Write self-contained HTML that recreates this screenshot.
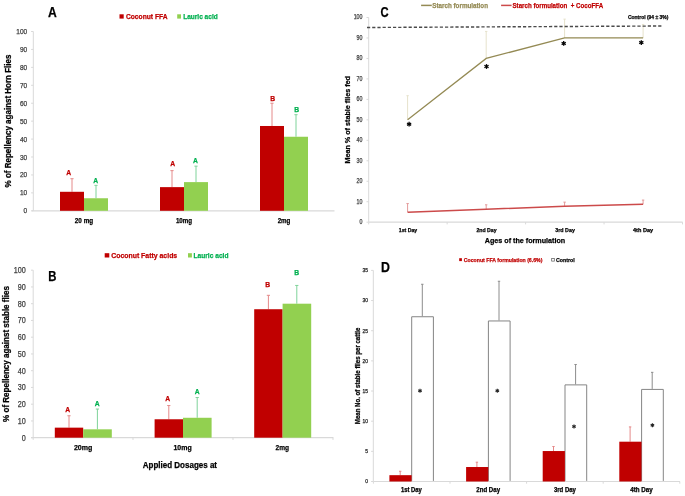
<!DOCTYPE html>
<html><head><meta charset="utf-8"><style>
html,body{margin:0;padding:0;background:#fff;overflow:hidden;}
svg{display:block;font-family:"Liberation Sans", sans-serif;will-change:transform;}
</style></head><body>
<svg width="685" height="496" viewBox="0 0 685 496">
<rect width="685" height="496" fill="#fff"/>
<line x1="33.30" y1="31.50" x2="33.30" y2="210.80" stroke="#d9d9d9" stroke-width="1"/>
<line x1="31.10" y1="210.80" x2="33.30" y2="210.80" stroke="#d9d9d9" stroke-width="1"/>
<text x="27.20" y="213.30" font-size="7.3" fill="#404040" text-anchor="end" font-weight="normal" textLength="3.65" lengthAdjust="spacingAndGlyphs" stroke="#404040" stroke-width="0.25">0</text>
<line x1="31.10" y1="192.87" x2="33.30" y2="192.87" stroke="#d9d9d9" stroke-width="1"/>
<text x="27.20" y="195.37" font-size="7.3" fill="#404040" text-anchor="end" font-weight="normal" textLength="7.30" lengthAdjust="spacingAndGlyphs" stroke="#404040" stroke-width="0.25">10</text>
<line x1="31.10" y1="174.94" x2="33.30" y2="174.94" stroke="#d9d9d9" stroke-width="1"/>
<text x="27.20" y="177.44" font-size="7.3" fill="#404040" text-anchor="end" font-weight="normal" textLength="7.30" lengthAdjust="spacingAndGlyphs" stroke="#404040" stroke-width="0.25">20</text>
<line x1="31.10" y1="157.01" x2="33.30" y2="157.01" stroke="#d9d9d9" stroke-width="1"/>
<text x="27.20" y="159.51" font-size="7.3" fill="#404040" text-anchor="end" font-weight="normal" textLength="7.30" lengthAdjust="spacingAndGlyphs" stroke="#404040" stroke-width="0.25">30</text>
<line x1="31.10" y1="139.08" x2="33.30" y2="139.08" stroke="#d9d9d9" stroke-width="1"/>
<text x="27.20" y="141.58" font-size="7.3" fill="#404040" text-anchor="end" font-weight="normal" textLength="7.30" lengthAdjust="spacingAndGlyphs" stroke="#404040" stroke-width="0.25">40</text>
<line x1="31.10" y1="121.15" x2="33.30" y2="121.15" stroke="#d9d9d9" stroke-width="1"/>
<text x="27.20" y="123.65" font-size="7.3" fill="#404040" text-anchor="end" font-weight="normal" textLength="7.30" lengthAdjust="spacingAndGlyphs" stroke="#404040" stroke-width="0.25">50</text>
<line x1="31.10" y1="103.22" x2="33.30" y2="103.22" stroke="#d9d9d9" stroke-width="1"/>
<text x="27.20" y="105.72" font-size="7.3" fill="#404040" text-anchor="end" font-weight="normal" textLength="7.30" lengthAdjust="spacingAndGlyphs" stroke="#404040" stroke-width="0.25">60</text>
<line x1="31.10" y1="85.29" x2="33.30" y2="85.29" stroke="#d9d9d9" stroke-width="1"/>
<text x="27.20" y="87.79" font-size="7.3" fill="#404040" text-anchor="end" font-weight="normal" textLength="7.30" lengthAdjust="spacingAndGlyphs" stroke="#404040" stroke-width="0.25">70</text>
<line x1="31.10" y1="67.36" x2="33.30" y2="67.36" stroke="#d9d9d9" stroke-width="1"/>
<text x="27.20" y="69.86" font-size="7.3" fill="#404040" text-anchor="end" font-weight="normal" textLength="7.30" lengthAdjust="spacingAndGlyphs" stroke="#404040" stroke-width="0.25">80</text>
<line x1="31.10" y1="49.43" x2="33.30" y2="49.43" stroke="#d9d9d9" stroke-width="1"/>
<text x="27.20" y="51.93" font-size="7.3" fill="#404040" text-anchor="end" font-weight="normal" textLength="7.30" lengthAdjust="spacingAndGlyphs" stroke="#404040" stroke-width="0.25">90</text>
<line x1="31.10" y1="31.50" x2="33.30" y2="31.50" stroke="#d9d9d9" stroke-width="1"/>
<text x="27.20" y="34.00" font-size="7.3" fill="#404040" text-anchor="end" font-weight="normal" textLength="10.95" lengthAdjust="spacingAndGlyphs" stroke="#404040" stroke-width="0.25">100</text>
<line x1="31.60" y1="210.80" x2="334.50" y2="210.80" stroke="#d9d9d9" stroke-width="1.2"/>
<line x1="72.00" y1="178.71" x2="72.00" y2="191.79" stroke="#e58a8a" stroke-width="1"/>
<line x1="70.40" y1="178.71" x2="73.60" y2="178.71" stroke="#e58a8a" stroke-width="1"/>
<line x1="96.00" y1="185.34" x2="96.00" y2="198.25" stroke="#7fd39a" stroke-width="1"/>
<line x1="94.40" y1="185.34" x2="97.60" y2="185.34" stroke="#7fd39a" stroke-width="1"/>
<rect x="60.00" y="191.79" width="24.00" height="19.01" fill="#c00000"/>
<rect x="84.00" y="198.25" width="24.00" height="12.55" fill="#92d050"/>
<line x1="172.00" y1="170.64" x2="172.00" y2="187.13" stroke="#e58a8a" stroke-width="1"/>
<line x1="170.40" y1="170.64" x2="173.60" y2="170.64" stroke="#e58a8a" stroke-width="1"/>
<line x1="196.00" y1="166.15" x2="196.00" y2="182.11" stroke="#7fd39a" stroke-width="1"/>
<line x1="194.40" y1="166.15" x2="197.60" y2="166.15" stroke="#7fd39a" stroke-width="1"/>
<rect x="160.00" y="187.13" width="24.00" height="23.67" fill="#c00000"/>
<rect x="184.00" y="182.11" width="24.00" height="28.69" fill="#92d050"/>
<line x1="272.00" y1="103.22" x2="272.00" y2="125.99" stroke="#e58a8a" stroke-width="1"/>
<line x1="270.40" y1="103.22" x2="273.60" y2="103.22" stroke="#e58a8a" stroke-width="1"/>
<line x1="296.00" y1="114.70" x2="296.00" y2="136.75" stroke="#7fd39a" stroke-width="1"/>
<line x1="294.40" y1="114.70" x2="297.60" y2="114.70" stroke="#7fd39a" stroke-width="1"/>
<rect x="260.00" y="125.99" width="24.00" height="84.81" fill="#c00000"/>
<rect x="284.00" y="136.75" width="24.00" height="74.05" fill="#92d050"/>
<text x="68.70" y="175.40" font-size="7.7" fill="#c00000" text-anchor="middle" font-weight="bold" textLength="4.90" lengthAdjust="spacingAndGlyphs" stroke="#c00000" stroke-width="0.25">A</text>
<text x="95.70" y="182.70" font-size="7.7" fill="#00b050" text-anchor="middle" font-weight="bold" textLength="4.90" lengthAdjust="spacingAndGlyphs" stroke="#00b050" stroke-width="0.25">A</text>
<text x="172.70" y="166.20" font-size="7.7" fill="#c00000" text-anchor="middle" font-weight="bold" textLength="4.90" lengthAdjust="spacingAndGlyphs" stroke="#c00000" stroke-width="0.25">A</text>
<text x="195.40" y="162.80" font-size="7.7" fill="#00b050" text-anchor="middle" font-weight="bold" textLength="4.90" lengthAdjust="spacingAndGlyphs" stroke="#00b050" stroke-width="0.25">A</text>
<text x="272.60" y="100.50" font-size="7.7" fill="#c00000" text-anchor="middle" font-weight="bold" textLength="4.90" lengthAdjust="spacingAndGlyphs" stroke="#c00000" stroke-width="0.25">B</text>
<text x="296.80" y="111.70" font-size="7.7" fill="#00b050" text-anchor="middle" font-weight="bold" textLength="4.90" lengthAdjust="spacingAndGlyphs" stroke="#00b050" stroke-width="0.25">B</text>
<text x="84.00" y="222.90" font-size="7" fill="#000" text-anchor="middle" font-weight="bold" textLength="18.30" lengthAdjust="spacingAndGlyphs" stroke="#000" stroke-width="0.25">20 mg</text>
<text x="184.00" y="222.90" font-size="7" fill="#000" text-anchor="middle" font-weight="bold" textLength="16.20" lengthAdjust="spacingAndGlyphs" stroke="#000" stroke-width="0.25">10mg</text>
<text x="284.00" y="222.90" font-size="7" fill="#000" text-anchor="middle" font-weight="bold" textLength="12.70" lengthAdjust="spacingAndGlyphs" stroke="#000" stroke-width="0.25">2mg</text>
<text x="48.10" y="16.90" font-size="14" fill="#000" text-anchor="start" font-weight="bold" textLength="8.80" lengthAdjust="spacingAndGlyphs" stroke="#000" stroke-width="0.25">A</text>
<rect x="119.50" y="14.30" width="4.20" height="4.30" fill="#c00000"/>
<text x="125.90" y="18.50" font-size="7.6" fill="#c00000" text-anchor="start" font-weight="bold" textLength="41.70" lengthAdjust="spacingAndGlyphs" stroke="#c00000" stroke-width="0.25">Coconut FFA</text>
<rect x="177.20" y="14.30" width="3.80" height="4.30" fill="#92d050"/>
<text x="183.20" y="18.50" font-size="7.6" fill="#00b050" text-anchor="start" font-weight="bold" textLength="34.50" lengthAdjust="spacingAndGlyphs" stroke="#00b050" stroke-width="0.25">Lauric acid</text>
<text transform="translate(10.90,121.00) rotate(-90)" x="0" y="0" font-size="8.6" fill="#000" text-anchor="middle" font-weight="bold" textLength="132.9" lengthAdjust="spacingAndGlyphs" stroke="#000" stroke-width="0.25">% of Repellency against Horn Flies</text>
<line x1="33.20" y1="270.20" x2="33.20" y2="437.70" stroke="#d9d9d9" stroke-width="1"/>
<line x1="31.00" y1="437.70" x2="33.20" y2="437.70" stroke="#d9d9d9" stroke-width="1"/>
<text x="25.80" y="440.55" font-size="8.2" fill="#404040" text-anchor="end" font-weight="normal" textLength="4.00" lengthAdjust="spacingAndGlyphs" stroke="#404040" stroke-width="0.25">0</text>
<line x1="31.00" y1="420.95" x2="33.20" y2="420.95" stroke="#d9d9d9" stroke-width="1"/>
<text x="25.80" y="423.80" font-size="8.2" fill="#404040" text-anchor="end" font-weight="normal" textLength="8.00" lengthAdjust="spacingAndGlyphs" stroke="#404040" stroke-width="0.25">10</text>
<line x1="31.00" y1="404.20" x2="33.20" y2="404.20" stroke="#d9d9d9" stroke-width="1"/>
<text x="25.80" y="407.05" font-size="8.2" fill="#404040" text-anchor="end" font-weight="normal" textLength="8.00" lengthAdjust="spacingAndGlyphs" stroke="#404040" stroke-width="0.25">20</text>
<line x1="31.00" y1="387.45" x2="33.20" y2="387.45" stroke="#d9d9d9" stroke-width="1"/>
<text x="25.80" y="390.30" font-size="8.2" fill="#404040" text-anchor="end" font-weight="normal" textLength="8.00" lengthAdjust="spacingAndGlyphs" stroke="#404040" stroke-width="0.25">30</text>
<line x1="31.00" y1="370.70" x2="33.20" y2="370.70" stroke="#d9d9d9" stroke-width="1"/>
<text x="25.80" y="373.55" font-size="8.2" fill="#404040" text-anchor="end" font-weight="normal" textLength="8.00" lengthAdjust="spacingAndGlyphs" stroke="#404040" stroke-width="0.25">40</text>
<line x1="31.00" y1="353.95" x2="33.20" y2="353.95" stroke="#d9d9d9" stroke-width="1"/>
<text x="25.80" y="356.80" font-size="8.2" fill="#404040" text-anchor="end" font-weight="normal" textLength="8.00" lengthAdjust="spacingAndGlyphs" stroke="#404040" stroke-width="0.25">50</text>
<line x1="31.00" y1="337.20" x2="33.20" y2="337.20" stroke="#d9d9d9" stroke-width="1"/>
<text x="25.80" y="340.05" font-size="8.2" fill="#404040" text-anchor="end" font-weight="normal" textLength="8.00" lengthAdjust="spacingAndGlyphs" stroke="#404040" stroke-width="0.25">60</text>
<line x1="31.00" y1="320.45" x2="33.20" y2="320.45" stroke="#d9d9d9" stroke-width="1"/>
<text x="25.80" y="323.30" font-size="8.2" fill="#404040" text-anchor="end" font-weight="normal" textLength="8.00" lengthAdjust="spacingAndGlyphs" stroke="#404040" stroke-width="0.25">70</text>
<line x1="31.00" y1="303.70" x2="33.20" y2="303.70" stroke="#d9d9d9" stroke-width="1"/>
<text x="25.80" y="306.55" font-size="8.2" fill="#404040" text-anchor="end" font-weight="normal" textLength="8.00" lengthAdjust="spacingAndGlyphs" stroke="#404040" stroke-width="0.25">80</text>
<line x1="31.00" y1="286.95" x2="33.20" y2="286.95" stroke="#d9d9d9" stroke-width="1"/>
<text x="25.80" y="289.80" font-size="8.2" fill="#404040" text-anchor="end" font-weight="normal" textLength="8.00" lengthAdjust="spacingAndGlyphs" stroke="#404040" stroke-width="0.25">90</text>
<line x1="31.00" y1="270.20" x2="33.20" y2="270.20" stroke="#d9d9d9" stroke-width="1"/>
<text x="25.80" y="273.05" font-size="8.2" fill="#404040" text-anchor="end" font-weight="normal" textLength="12.00" lengthAdjust="spacingAndGlyphs" stroke="#404040" stroke-width="0.25">100</text>
<line x1="31.00" y1="437.70" x2="333.40" y2="437.70" stroke="#d9d9d9" stroke-width="1.2"/>
<line x1="33.20" y1="437.70" x2="33.20" y2="439.90" stroke="#d9d9d9" stroke-width="1"/>
<line x1="133.00" y1="437.70" x2="133.00" y2="439.90" stroke="#d9d9d9" stroke-width="1"/>
<line x1="233.00" y1="437.70" x2="233.00" y2="439.90" stroke="#d9d9d9" stroke-width="1"/>
<line x1="333.00" y1="437.70" x2="333.00" y2="439.90" stroke="#d9d9d9" stroke-width="1"/>
<line x1="69.00" y1="415.76" x2="69.00" y2="427.65" stroke="#e58a8a" stroke-width="1"/>
<line x1="67.40" y1="415.76" x2="70.60" y2="415.76" stroke="#e58a8a" stroke-width="1"/>
<line x1="97.40" y1="409.06" x2="97.40" y2="429.32" stroke="#7fd39a" stroke-width="1"/>
<line x1="95.80" y1="409.06" x2="99.00" y2="409.06" stroke="#7fd39a" stroke-width="1"/>
<rect x="54.80" y="427.65" width="28.40" height="10.05" fill="#c00000"/>
<rect x="83.20" y="429.32" width="28.60" height="8.38" fill="#92d050"/>
<line x1="168.80" y1="405.54" x2="168.80" y2="419.27" stroke="#e58a8a" stroke-width="1"/>
<line x1="167.20" y1="405.54" x2="170.40" y2="405.54" stroke="#e58a8a" stroke-width="1"/>
<line x1="197.20" y1="397.50" x2="197.20" y2="417.77" stroke="#7fd39a" stroke-width="1"/>
<line x1="195.60" y1="397.50" x2="198.80" y2="397.50" stroke="#7fd39a" stroke-width="1"/>
<rect x="154.60" y="419.27" width="28.40" height="18.43" fill="#c00000"/>
<rect x="183.00" y="417.77" width="28.60" height="19.93" fill="#92d050"/>
<line x1="268.40" y1="295.32" x2="268.40" y2="309.23" stroke="#e58a8a" stroke-width="1"/>
<line x1="266.80" y1="295.32" x2="270.00" y2="295.32" stroke="#e58a8a" stroke-width="1"/>
<line x1="296.80" y1="285.44" x2="296.80" y2="303.70" stroke="#7fd39a" stroke-width="1"/>
<line x1="295.20" y1="285.44" x2="298.40" y2="285.44" stroke="#7fd39a" stroke-width="1"/>
<rect x="254.20" y="309.23" width="28.40" height="128.47" fill="#c00000"/>
<rect x="282.60" y="303.70" width="28.60" height="134.00" fill="#92d050"/>
<text x="67.80" y="412.00" font-size="7.7" fill="#c00000" text-anchor="middle" font-weight="bold" textLength="4.90" lengthAdjust="spacingAndGlyphs" stroke="#c00000" stroke-width="0.25">A</text>
<text x="97.20" y="406.20" font-size="7.7" fill="#00b050" text-anchor="middle" font-weight="bold" textLength="4.90" lengthAdjust="spacingAndGlyphs" stroke="#00b050" stroke-width="0.25">A</text>
<text x="167.70" y="401.30" font-size="7.7" fill="#c00000" text-anchor="middle" font-weight="bold" textLength="4.90" lengthAdjust="spacingAndGlyphs" stroke="#c00000" stroke-width="0.25">A</text>
<text x="197.10" y="394.10" font-size="7.7" fill="#00b050" text-anchor="middle" font-weight="bold" textLength="4.90" lengthAdjust="spacingAndGlyphs" stroke="#00b050" stroke-width="0.25">A</text>
<text x="267.70" y="287.10" font-size="7.7" fill="#c00000" text-anchor="middle" font-weight="bold" textLength="4.90" lengthAdjust="spacingAndGlyphs" stroke="#c00000" stroke-width="0.25">B</text>
<text x="296.60" y="275.10" font-size="7.7" fill="#00b050" text-anchor="middle" font-weight="bold" textLength="4.90" lengthAdjust="spacingAndGlyphs" stroke="#00b050" stroke-width="0.25">B</text>
<text x="83.10" y="450.30" font-size="7.7" fill="#000" text-anchor="middle" font-weight="bold" textLength="18.40" lengthAdjust="spacingAndGlyphs" stroke="#000" stroke-width="0.25">20mg</text>
<text x="182.60" y="450.30" font-size="7.7" fill="#000" text-anchor="middle" font-weight="bold" textLength="18.20" lengthAdjust="spacingAndGlyphs" stroke="#000" stroke-width="0.25">10mg</text>
<text x="282.30" y="450.30" font-size="7.7" fill="#000" text-anchor="middle" font-weight="bold" textLength="13.50" lengthAdjust="spacingAndGlyphs" stroke="#000" stroke-width="0.25">2mg</text>
<text x="142.80" y="467.90" font-size="8.5" fill="#000" text-anchor="start" font-weight="bold" textLength="74.20" lengthAdjust="spacingAndGlyphs" stroke="#000" stroke-width="0.25">Applied Dosages at</text>
<text x="48.30" y="281.00" font-size="14" fill="#000" text-anchor="start" font-weight="bold" textLength="8.20" lengthAdjust="spacingAndGlyphs" stroke="#000" stroke-width="0.25">B</text>
<rect x="104.70" y="253.20" width="4.60" height="4.30" fill="#c00000"/>
<text x="111.20" y="257.60" font-size="7.8" fill="#c00000" text-anchor="start" font-weight="bold" textLength="66.00" lengthAdjust="spacingAndGlyphs" stroke="#c00000" stroke-width="0.25">Coconut Fatty acids</text>
<rect x="188.00" y="253.20" width="3.90" height="4.30" fill="#92d050"/>
<text x="193.50" y="257.60" font-size="7.8" fill="#00b050" text-anchor="start" font-weight="bold" textLength="35.00" lengthAdjust="spacingAndGlyphs" stroke="#00b050" stroke-width="0.25">Lauric acid</text>
<text transform="translate(9.00,354.00) rotate(-90)" x="0" y="0" font-size="8.6" fill="#000" text-anchor="middle" font-weight="bold" textLength="135.8" lengthAdjust="spacingAndGlyphs" stroke="#000" stroke-width="0.25">% of Repellency against stable flies</text>
<line x1="368.70" y1="17.50" x2="368.70" y2="222.20" stroke="#d9d9d9" stroke-width="1"/>
<line x1="366.50" y1="222.20" x2="368.70" y2="222.20" stroke="#d9d9d9" stroke-width="1"/>
<text x="362.50" y="224.10" font-size="6.6" fill="#404040" text-anchor="end" font-weight="normal" textLength="2.95" lengthAdjust="spacingAndGlyphs" stroke="#404040" stroke-width="0.25">0</text>
<line x1="366.50" y1="201.73" x2="368.70" y2="201.73" stroke="#d9d9d9" stroke-width="1"/>
<text x="362.50" y="203.63" font-size="6.6" fill="#404040" text-anchor="end" font-weight="normal" textLength="5.90" lengthAdjust="spacingAndGlyphs" stroke="#404040" stroke-width="0.25">10</text>
<line x1="366.50" y1="181.26" x2="368.70" y2="181.26" stroke="#d9d9d9" stroke-width="1"/>
<text x="362.50" y="183.16" font-size="6.6" fill="#404040" text-anchor="end" font-weight="normal" textLength="5.90" lengthAdjust="spacingAndGlyphs" stroke="#404040" stroke-width="0.25">20</text>
<line x1="366.50" y1="160.79" x2="368.70" y2="160.79" stroke="#d9d9d9" stroke-width="1"/>
<text x="362.50" y="162.69" font-size="6.6" fill="#404040" text-anchor="end" font-weight="normal" textLength="5.90" lengthAdjust="spacingAndGlyphs" stroke="#404040" stroke-width="0.25">30</text>
<line x1="366.50" y1="140.32" x2="368.70" y2="140.32" stroke="#d9d9d9" stroke-width="1"/>
<text x="362.50" y="142.22" font-size="6.6" fill="#404040" text-anchor="end" font-weight="normal" textLength="5.90" lengthAdjust="spacingAndGlyphs" stroke="#404040" stroke-width="0.25">40</text>
<line x1="366.50" y1="119.85" x2="368.70" y2="119.85" stroke="#d9d9d9" stroke-width="1"/>
<text x="362.50" y="121.75" font-size="6.6" fill="#404040" text-anchor="end" font-weight="normal" textLength="5.90" lengthAdjust="spacingAndGlyphs" stroke="#404040" stroke-width="0.25">50</text>
<line x1="366.50" y1="99.38" x2="368.70" y2="99.38" stroke="#d9d9d9" stroke-width="1"/>
<text x="362.50" y="101.28" font-size="6.6" fill="#404040" text-anchor="end" font-weight="normal" textLength="5.90" lengthAdjust="spacingAndGlyphs" stroke="#404040" stroke-width="0.25">60</text>
<line x1="366.50" y1="78.91" x2="368.70" y2="78.91" stroke="#d9d9d9" stroke-width="1"/>
<text x="362.50" y="80.81" font-size="6.6" fill="#404040" text-anchor="end" font-weight="normal" textLength="5.90" lengthAdjust="spacingAndGlyphs" stroke="#404040" stroke-width="0.25">70</text>
<line x1="366.50" y1="58.44" x2="368.70" y2="58.44" stroke="#d9d9d9" stroke-width="1"/>
<text x="362.50" y="60.34" font-size="6.6" fill="#404040" text-anchor="end" font-weight="normal" textLength="5.90" lengthAdjust="spacingAndGlyphs" stroke="#404040" stroke-width="0.25">80</text>
<line x1="366.50" y1="37.97" x2="368.70" y2="37.97" stroke="#d9d9d9" stroke-width="1"/>
<text x="362.50" y="39.87" font-size="6.6" fill="#404040" text-anchor="end" font-weight="normal" textLength="5.90" lengthAdjust="spacingAndGlyphs" stroke="#404040" stroke-width="0.25">90</text>
<line x1="366.50" y1="17.50" x2="368.70" y2="17.50" stroke="#d9d9d9" stroke-width="1"/>
<text x="362.50" y="19.40" font-size="6.6" fill="#404040" text-anchor="end" font-weight="normal" textLength="8.85" lengthAdjust="spacingAndGlyphs" stroke="#404040" stroke-width="0.25">100</text>
<line x1="368.70" y1="222.20" x2="682.60" y2="222.20" stroke="#d9d9d9" stroke-width="1.2"/>
<line x1="368.70" y1="222.20" x2="368.70" y2="224.40" stroke="#d9d9d9" stroke-width="1"/>
<line x1="447.15" y1="222.20" x2="447.15" y2="224.40" stroke="#d9d9d9" stroke-width="1"/>
<line x1="525.60" y1="222.20" x2="525.60" y2="224.40" stroke="#d9d9d9" stroke-width="1"/>
<line x1="604.05" y1="222.20" x2="604.05" y2="224.40" stroke="#d9d9d9" stroke-width="1"/>
<line x1="682.50" y1="222.20" x2="682.50" y2="224.40" stroke="#d9d9d9" stroke-width="1"/>
<line x1="407.60" y1="95.70" x2="407.60" y2="119.85" stroke="#e6e2cc" stroke-width="1"/>
<line x1="406.40" y1="95.70" x2="408.80" y2="95.70" stroke="#e6e2cc" stroke-width="1"/>
<line x1="407.60" y1="203.57" x2="407.60" y2="212.17" stroke="#e39a9a" stroke-width="1"/>
<line x1="406.40" y1="203.57" x2="408.80" y2="203.57" stroke="#e39a9a" stroke-width="1"/>
<line x1="486.20" y1="31.42" x2="486.20" y2="58.44" stroke="#e6e2cc" stroke-width="1"/>
<line x1="485.00" y1="31.42" x2="487.40" y2="31.42" stroke="#e6e2cc" stroke-width="1"/>
<line x1="486.20" y1="204.80" x2="486.20" y2="209.30" stroke="#e39a9a" stroke-width="1"/>
<line x1="485.00" y1="204.80" x2="487.40" y2="204.80" stroke="#e39a9a" stroke-width="1"/>
<line x1="564.60" y1="19.14" x2="564.60" y2="37.97" stroke="#e6e2cc" stroke-width="1"/>
<line x1="563.40" y1="19.14" x2="565.80" y2="19.14" stroke="#e6e2cc" stroke-width="1"/>
<line x1="564.60" y1="202.14" x2="564.60" y2="206.23" stroke="#e39a9a" stroke-width="1"/>
<line x1="563.40" y1="202.14" x2="565.80" y2="202.14" stroke="#e39a9a" stroke-width="1"/>
<line x1="643.10" y1="24.46" x2="643.10" y2="37.97" stroke="#e6e2cc" stroke-width="1"/>
<line x1="641.90" y1="24.46" x2="644.30" y2="24.46" stroke="#e6e2cc" stroke-width="1"/>
<line x1="643.10" y1="200.09" x2="643.10" y2="204.19" stroke="#e39a9a" stroke-width="1"/>
<line x1="641.90" y1="200.09" x2="644.30" y2="200.09" stroke="#e39a9a" stroke-width="1"/>
<polyline points="407.60,119.85 486.20,58.44 564.60,37.97 643.10,37.97" fill="none" stroke="#948a54" stroke-width="1.25"/>
<polyline points="407.60,212.17 486.20,209.30 564.60,206.23 643.10,204.19" fill="none" stroke="#cc4a4a" stroke-width="1.5"/>
<line x1="367.00" y1="27.50" x2="662.20" y2="26.00" stroke="#4a4a4a" stroke-width="1.4" stroke-dasharray="3.2 2.0"/>
<text x="628.00" y="19.00" font-size="5.4" fill="#000" text-anchor="start" font-weight="bold" textLength="40.40" lengthAdjust="spacingAndGlyphs" stroke="#000" stroke-width="0.25">Control (94 ± 3%)</text>
<line x1="409.10" y1="121.80" x2="409.10" y2="126.60" stroke="#000" stroke-width="1.3"/>
<line x1="407.02" y1="123.00" x2="411.18" y2="125.40" stroke="#000" stroke-width="1.3"/>
<line x1="411.18" y1="123.00" x2="407.02" y2="125.40" stroke="#000" stroke-width="1.3"/>
<line x1="486.50" y1="64.10" x2="486.50" y2="68.90" stroke="#000" stroke-width="1.3"/>
<line x1="484.42" y1="65.30" x2="488.58" y2="67.70" stroke="#000" stroke-width="1.3"/>
<line x1="488.58" y1="65.30" x2="484.42" y2="67.70" stroke="#000" stroke-width="1.3"/>
<line x1="563.70" y1="41.00" x2="563.70" y2="45.80" stroke="#000" stroke-width="1.3"/>
<line x1="561.62" y1="42.20" x2="565.78" y2="44.60" stroke="#000" stroke-width="1.3"/>
<line x1="565.78" y1="42.20" x2="561.62" y2="44.60" stroke="#000" stroke-width="1.3"/>
<line x1="641.30" y1="40.20" x2="641.30" y2="45.00" stroke="#000" stroke-width="1.3"/>
<line x1="639.22" y1="41.40" x2="643.38" y2="43.80" stroke="#000" stroke-width="1.3"/>
<line x1="643.38" y1="41.40" x2="639.22" y2="43.80" stroke="#000" stroke-width="1.3"/>
<text x="380.60" y="17.00" font-size="14" fill="#000" text-anchor="start" font-weight="bold" textLength="8.10" lengthAdjust="spacingAndGlyphs" stroke="#000" stroke-width="0.25">C</text>
<line x1="421.10" y1="5.40" x2="431.80" y2="5.40" stroke="#948a54" stroke-width="1.5"/>
<text x="432.30" y="7.60" font-size="7.3" fill="#948a54" text-anchor="start" font-weight="bold" textLength="55.70" lengthAdjust="spacingAndGlyphs" stroke="#948a54" stroke-width="0.25">Starch formulation</text>
<line x1="501.10" y1="5.40" x2="511.60" y2="5.40" stroke="#cc4a4a" stroke-width="1.5"/>
<text x="512.50" y="7.60" font-size="7.3" fill="#c00000" text-anchor="start" font-weight="bold" textLength="90.70" lengthAdjust="spacingAndGlyphs" stroke="#c00000" stroke-width="0.25">Starch formulation&#160; + CocoFFA</text>
<text x="408.00" y="231.90" font-size="5.6" fill="#000" text-anchor="middle" font-weight="bold" textLength="18.40" lengthAdjust="spacingAndGlyphs" stroke="#000" stroke-width="0.25">1st Day</text>
<text x="486.50" y="231.90" font-size="5.6" fill="#000" text-anchor="middle" font-weight="bold" textLength="20.20" lengthAdjust="spacingAndGlyphs" stroke="#000" stroke-width="0.25">2nd Day</text>
<text x="565.10" y="231.90" font-size="5.6" fill="#000" text-anchor="middle" font-weight="bold" textLength="19.50" lengthAdjust="spacingAndGlyphs" stroke="#000" stroke-width="0.25">3rd Day</text>
<text x="643.10" y="231.90" font-size="5.6" fill="#000" text-anchor="middle" font-weight="bold" textLength="20.20" lengthAdjust="spacingAndGlyphs" stroke="#000" stroke-width="0.25">4th Day</text>
<text x="484.80" y="242.90" font-size="7.4" fill="#000" text-anchor="start" font-weight="bold" textLength="80.40" lengthAdjust="spacingAndGlyphs" stroke="#000" stroke-width="0.25">Ages of the formulation</text>
<text transform="translate(349.90,119.80) rotate(-90)" x="0" y="0" font-size="7.5" fill="#000" text-anchor="middle" font-weight="bold" textLength="87.6" lengthAdjust="spacingAndGlyphs" stroke="#000" stroke-width="0.25">Mean % of stable flies fed</text>
<line x1="373.30" y1="270.40" x2="373.30" y2="481.50" stroke="#d9d9d9" stroke-width="1"/>
<line x1="371.10" y1="481.50" x2="373.30" y2="481.50" stroke="#d9d9d9" stroke-width="1"/>
<text x="368.00" y="483.30" font-size="5.2" fill="#262626" text-anchor="end" font-weight="normal" textLength="2.75" lengthAdjust="spacingAndGlyphs" stroke="#262626" stroke-width="0.25">0</text>
<line x1="371.10" y1="451.34" x2="373.30" y2="451.34" stroke="#d9d9d9" stroke-width="1"/>
<text x="368.00" y="453.14" font-size="5.2" fill="#262626" text-anchor="end" font-weight="normal" textLength="2.75" lengthAdjust="spacingAndGlyphs" stroke="#262626" stroke-width="0.25">5</text>
<line x1="371.10" y1="421.19" x2="373.30" y2="421.19" stroke="#d9d9d9" stroke-width="1"/>
<text x="368.00" y="422.99" font-size="5.2" fill="#262626" text-anchor="end" font-weight="normal" textLength="5.50" lengthAdjust="spacingAndGlyphs" stroke="#262626" stroke-width="0.25">10</text>
<line x1="371.10" y1="391.03" x2="373.30" y2="391.03" stroke="#d9d9d9" stroke-width="1"/>
<text x="368.00" y="392.83" font-size="5.2" fill="#262626" text-anchor="end" font-weight="normal" textLength="5.50" lengthAdjust="spacingAndGlyphs" stroke="#262626" stroke-width="0.25">15</text>
<line x1="371.10" y1="360.87" x2="373.30" y2="360.87" stroke="#d9d9d9" stroke-width="1"/>
<text x="368.00" y="362.67" font-size="5.2" fill="#262626" text-anchor="end" font-weight="normal" textLength="5.50" lengthAdjust="spacingAndGlyphs" stroke="#262626" stroke-width="0.25">20</text>
<line x1="371.10" y1="330.71" x2="373.30" y2="330.71" stroke="#d9d9d9" stroke-width="1"/>
<text x="368.00" y="332.51" font-size="5.2" fill="#262626" text-anchor="end" font-weight="normal" textLength="5.50" lengthAdjust="spacingAndGlyphs" stroke="#262626" stroke-width="0.25">25</text>
<line x1="371.10" y1="300.56" x2="373.30" y2="300.56" stroke="#d9d9d9" stroke-width="1"/>
<text x="368.00" y="302.36" font-size="5.2" fill="#262626" text-anchor="end" font-weight="normal" textLength="5.50" lengthAdjust="spacingAndGlyphs" stroke="#262626" stroke-width="0.25">30</text>
<line x1="371.10" y1="270.40" x2="373.30" y2="270.40" stroke="#d9d9d9" stroke-width="1"/>
<text x="368.00" y="272.20" font-size="5.2" fill="#262626" text-anchor="end" font-weight="normal" textLength="5.50" lengthAdjust="spacingAndGlyphs" stroke="#262626" stroke-width="0.25">35</text>
<line x1="373.30" y1="481.50" x2="680.00" y2="481.50" stroke="#d9d9d9" stroke-width="1.2"/>
<line x1="373.40" y1="481.50" x2="373.40" y2="483.70" stroke="#d9d9d9" stroke-width="1"/>
<line x1="450.00" y1="481.50" x2="450.00" y2="483.70" stroke="#d9d9d9" stroke-width="1"/>
<line x1="526.60" y1="481.50" x2="526.60" y2="483.70" stroke="#d9d9d9" stroke-width="1"/>
<line x1="603.20" y1="481.50" x2="603.20" y2="483.70" stroke="#d9d9d9" stroke-width="1"/>
<line x1="679.80" y1="481.50" x2="679.80" y2="483.70" stroke="#d9d9d9" stroke-width="1"/>
<line x1="422.30" y1="284.27" x2="422.30" y2="316.24" stroke="#8c8c8c" stroke-width="1"/>
<line x1="421.10" y1="284.27" x2="423.50" y2="284.27" stroke="#8c8c8c" stroke-width="1"/>
<path d="M411.70,480.90 V316.74 H433.40 V480.90" fill="#fff" stroke="#858585" stroke-width="1"/>
<line x1="400.20" y1="471.25" x2="400.20" y2="475.17" stroke="#e58a8a" stroke-width="1"/>
<line x1="399.00" y1="471.25" x2="401.40" y2="471.25" stroke="#e58a8a" stroke-width="1"/>
<rect x="389.40" y="475.17" width="22.20" height="6.33" fill="#c00000"/>
<line x1="499.00" y1="281.26" x2="499.00" y2="320.46" stroke="#8c8c8c" stroke-width="1"/>
<line x1="497.80" y1="281.26" x2="500.20" y2="281.26" stroke="#8c8c8c" stroke-width="1"/>
<path d="M488.40,480.90 V320.96 H510.10 V480.90" fill="#fff" stroke="#858585" stroke-width="1"/>
<line x1="476.90" y1="462.20" x2="476.90" y2="467.02" stroke="#e58a8a" stroke-width="1"/>
<line x1="475.70" y1="462.20" x2="478.10" y2="462.20" stroke="#e58a8a" stroke-width="1"/>
<rect x="466.10" y="467.02" width="22.20" height="14.48" fill="#c00000"/>
<line x1="575.60" y1="364.49" x2="575.60" y2="384.39" stroke="#8c8c8c" stroke-width="1"/>
<line x1="574.40" y1="364.49" x2="576.80" y2="364.49" stroke="#8c8c8c" stroke-width="1"/>
<path d="M565.00,480.90 V384.89 H586.70 V480.90" fill="#fff" stroke="#858585" stroke-width="1"/>
<line x1="553.50" y1="446.52" x2="553.50" y2="451.04" stroke="#e58a8a" stroke-width="1"/>
<line x1="552.30" y1="446.52" x2="554.70" y2="446.52" stroke="#e58a8a" stroke-width="1"/>
<rect x="542.70" y="451.04" width="22.20" height="30.46" fill="#c00000"/>
<line x1="652.20" y1="372.33" x2="652.20" y2="388.92" stroke="#8c8c8c" stroke-width="1"/>
<line x1="651.00" y1="372.33" x2="653.40" y2="372.33" stroke="#8c8c8c" stroke-width="1"/>
<path d="M641.60,480.90 V389.42 H663.30 V480.90" fill="#fff" stroke="#858585" stroke-width="1"/>
<line x1="630.10" y1="426.92" x2="630.10" y2="441.69" stroke="#e58a8a" stroke-width="1"/>
<line x1="628.90" y1="426.92" x2="631.30" y2="426.92" stroke="#e58a8a" stroke-width="1"/>
<rect x="619.30" y="441.69" width="22.20" height="39.81" fill="#c00000"/>
<line x1="420.00" y1="388.80" x2="420.00" y2="392.80" stroke="#222" stroke-width="1.1"/>
<line x1="418.27" y1="389.80" x2="421.73" y2="391.80" stroke="#222" stroke-width="1.1"/>
<line x1="421.73" y1="389.80" x2="418.27" y2="391.80" stroke="#222" stroke-width="1.1"/>
<line x1="497.30" y1="388.80" x2="497.30" y2="392.80" stroke="#222" stroke-width="1.1"/>
<line x1="495.57" y1="389.80" x2="499.03" y2="391.80" stroke="#222" stroke-width="1.1"/>
<line x1="499.03" y1="389.80" x2="495.57" y2="391.80" stroke="#222" stroke-width="1.1"/>
<line x1="574.00" y1="424.60" x2="574.00" y2="428.60" stroke="#222" stroke-width="1.1"/>
<line x1="572.27" y1="425.60" x2="575.73" y2="427.60" stroke="#222" stroke-width="1.1"/>
<line x1="575.73" y1="425.60" x2="572.27" y2="427.60" stroke="#222" stroke-width="1.1"/>
<line x1="652.40" y1="423.30" x2="652.40" y2="427.30" stroke="#222" stroke-width="1.1"/>
<line x1="650.67" y1="424.30" x2="654.13" y2="426.30" stroke="#222" stroke-width="1.1"/>
<line x1="654.13" y1="424.30" x2="650.67" y2="426.30" stroke="#222" stroke-width="1.1"/>
<text x="381.10" y="272.40" font-size="14" fill="#000" text-anchor="start" font-weight="bold" textLength="8.90" lengthAdjust="spacingAndGlyphs" stroke="#000" stroke-width="0.25">D</text>
<rect x="459.20" y="258.20" width="2.70" height="2.90" fill="#c00000"/>
<text x="463.80" y="261.60" font-size="6" fill="#c00000" text-anchor="start" font-weight="bold" textLength="78.60" lengthAdjust="spacingAndGlyphs" stroke="#c00000" stroke-width="0.25">Coconut FFA formulation (6.6%)</text>
<rect x="551.70" y="258.40" width="2.60" height="2.70" fill="#fff" stroke="#555" stroke-width="0.7"/>
<text x="556.10" y="261.60" font-size="6" fill="#000" text-anchor="start" font-weight="bold" textLength="18.60" lengthAdjust="spacingAndGlyphs" stroke="#000" stroke-width="0.25">Control</text>
<text x="411.30" y="492.20" font-size="6.4" fill="#000" text-anchor="middle" font-weight="bold" textLength="20.80" lengthAdjust="spacingAndGlyphs" stroke="#000" stroke-width="0.25">1st Day</text>
<text x="488.20" y="492.20" font-size="6.4" fill="#000" text-anchor="middle" font-weight="bold" textLength="23.70" lengthAdjust="spacingAndGlyphs" stroke="#000" stroke-width="0.25">2nd Day</text>
<text x="564.90" y="492.20" font-size="6.4" fill="#000" text-anchor="middle" font-weight="bold" textLength="22.00" lengthAdjust="spacingAndGlyphs" stroke="#000" stroke-width="0.25">3rd Day</text>
<text x="641.50" y="492.20" font-size="6.4" fill="#000" text-anchor="middle" font-weight="bold" textLength="22.50" lengthAdjust="spacingAndGlyphs" stroke="#000" stroke-width="0.25">4th Day</text>
<text transform="translate(359.60,375.90) rotate(-90)" x="0" y="0" font-size="6.5" fill="#000" text-anchor="middle" font-weight="bold" textLength="96.6" lengthAdjust="spacingAndGlyphs" stroke="#000" stroke-width="0.25">Mean No. of stable flies per cattle</text>
</svg>
</body></html>
